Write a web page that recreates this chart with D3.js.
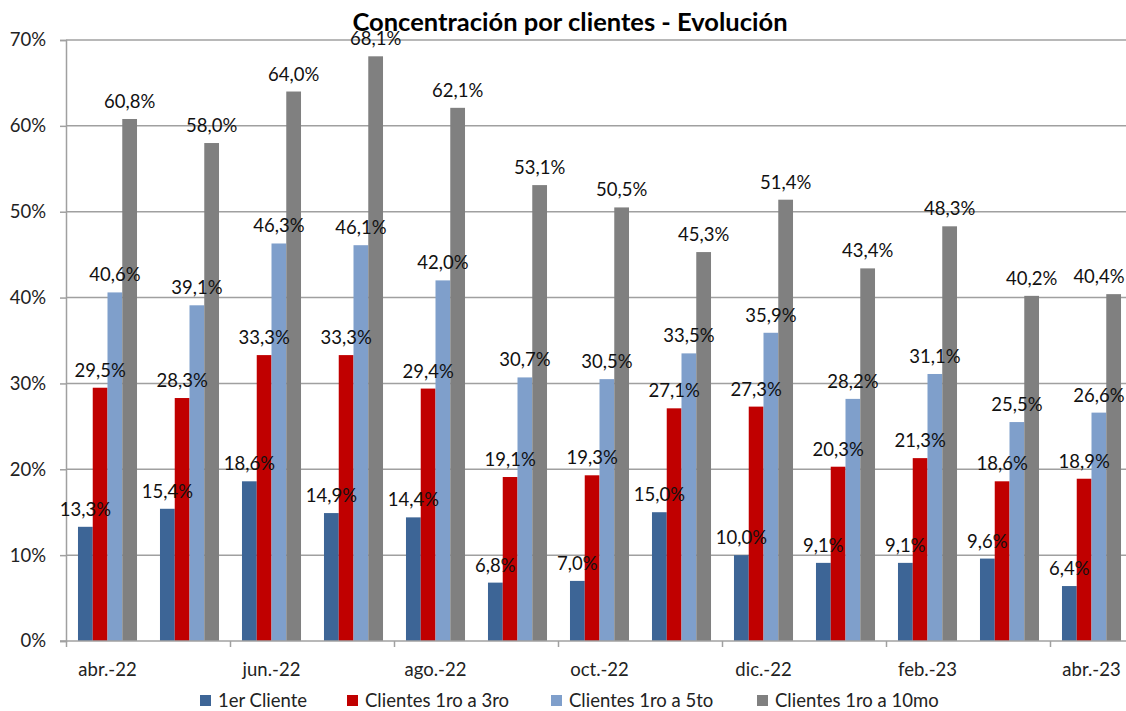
<!DOCTYPE html>
<html>
<head>
<meta charset="utf-8">
<script src="https://cdn.jsdelivr.net/npm/d3@7"></script>
<style>
  body { margin: 0; background: #fff; }
  svg { display: block; font-family: Lato, "Open Sans", sans-serif; }
</style>
</head>
<body>
<svg></svg>
<script>
const width = 1126;
const height = 711;

const months = ["abr.-22", "may.-22", "jun.-22", "jul.-22", "ago.-22", "sep.-22", "oct.-22",
  "nov.-22", "dic.-22", "ene.-23", "feb.-23", "mar.-23", "abr.-23"];
const seriesNames = ["1er Cliente", "Clientes 1ro a 3ro", "Clientes 1ro a 5to", "Clientes 1ro a 10mo"];
const primerCliente = [13.3, 15.4, 18.6, 14.9, 14.4, 6.8, 7.0, 15.0, 10.0, 9.1, 9.1, 9.6, 6.4];
const top3 = [29.5, 28.3, 33.3, 33.3, 29.4, 19.1, 19.3, 27.1, 27.3, 20.3, 21.3, 18.6, 18.9];
const top5 = [40.6, 39.1, 46.3, 46.1, 42.0, 30.7, 30.5, 33.5, 35.9, 28.2, 31.1, 25.5, 26.6];
const top10 = [60.8, 58.0, 64.0, 68.1, 62.1, 53.1, 50.5, 45.3, 51.4, 43.4, 48.3, 40.2, 40.4];
const yTicks = [0, 10, 20, 30, 40, 50, 60, 70];

const colors = ["#3d6596", "#c00000", "#7f9fcb", "#808080"];
const allSeries = [primerCliente, top3, top5, top10];

const svg = d3.select("svg").attr("width", width).attr("height", height);

const x = d3.scaleBand().domain(months).range([66.5, 1132.5])
  .paddingInner(0.28).paddingOuter(0.14);
const xs = d3.scaleBand().domain(d3.range(4)).range([0, x.bandwidth()]);
const y = d3.scaleLinear().domain([0, 70]).range([641, 40]);

const fmt = (v) => d3.format(".1f")(v).replace(".", ",") + "%";
const fontSize = 18.5;

// gridlines
svg.append("g")
  .selectAll("line")
  .data(yTicks.filter((d) => d > 0))
  .join("line")
  .attr("x1", 66).attr("x2", width)
  .attr("y1", (d) => y(d)).attr("y2", (d) => y(d))
  .attr("stroke", "#a0a0a0").attr("stroke-width", 1.5);

// y axis
const yAxis = svg.append("g")
  .attr("transform", "translate(66,0)")
  .call(d3.axisLeft(y).tickValues(yTicks).tickSize(6).tickPadding(6).tickFormat((d) => d + "%"));
yAxis.select(".domain").attr("stroke", "#a0a0a0").attr("stroke-width", 1.5);
yAxis.selectAll(".tick line").attr("stroke", "#a0a0a0").attr("stroke-width", 1.5);
yAxis.selectAll(".tick text").attr("font-size", fontSize).attr("fill", "#222")
  .attr("font-family", "Lato, sans-serif").attr("dx", -8);

// bars
const groups = svg.append("g")
  .selectAll("g")
  .data(months)
  .join("g")
  .attr("transform", (m) => `translate(${x(m)},0)`);

groups.selectAll("rect")
  .data((m, i) => allSeries.map((s, k) => ({ k, v: s[i] })))
  .join("rect")
  .attr("x", (d) => xs(d.k))
  .attr("width", xs.bandwidth())
  .attr("y", (d) => y(d.v))
  .attr("height", (d) => y(0) - y(d.v))
  .attr("fill", (d) => colors[d.k]);

// x axis
const xAxis = svg.append("g").attr("transform", "translate(0,641)");
xAxis.append("line")
  .attr("x1", 60).attr("x2", width).attr("y1", 0).attr("y2", 0)
  .attr("stroke", "#a0a0a0").attr("stroke-width", 1.5);
xAxis.selectAll(".tk")
  .data(months.filter((m, i) => i % 2 === 0))
  .join("line")
  .attr("x1", (m) => x(m) - x.step() * x.paddingInner() / 2)
  .attr("x2", (m) => x(m) - x.step() * x.paddingInner() / 2)
  .attr("y1", 0).attr("y2", 6)
  .attr("stroke", "#a0a0a0").attr("stroke-width", 1.5);
xAxis.selectAll("text")
  .data(months.filter((m, i) => i % 2 === 0))
  .join("text")
  .attr("x", (m) => x(m) + x.bandwidth() / 2)
  .attr("y", 35)
  .attr("text-anchor", "middle")
  .attr("font-size", fontSize)
  .attr("fill", "#222")
  .text((m) => m);

// value labels (kept inside the picture at the right edge)
groups.selectAll("text")
  .data((m, i) => allSeries.map((s, k) => ({ k, v: s[i], m })))
  .join("text")
  .attr("x", (d) => Math.min(xs(d.k) + xs.bandwidth() / 2, width - 27 - x(d.m)))
  .attr("y", (d) => y(d.v) - 11)
  .attr("text-anchor", "middle")
  .attr("font-size", fontSize)
  .attr("fill", "#111")
  .text((d) => fmt(d.v));

// title
svg.append("text")
  .attr("x", 570).attr("y", 31)
  .attr("text-anchor", "middle")
  .attr("font-size", 25.5).attr("font-weight", "bold")
  .attr("fill", "#000")
  .text("Concentración por clientes - Evolución");

// legend
const legendX = [200, 347, 551, 757];
const legend = svg.append("g").selectAll("g")
  .data(seriesNames)
  .join("g")
  .attr("transform", (d, i) => `translate(${legendX[i]},695)`);
legend.append("rect").attr("width", 11).attr("height", 11)
  .attr("fill", (d, i) => colors[i]);
legend.append("text").attr("x", 18).attr("y", 11.5)
  .attr("font-size", fontSize).attr("fill", "#222")
  .text((d) => d);
</script>
</body>
</html>
